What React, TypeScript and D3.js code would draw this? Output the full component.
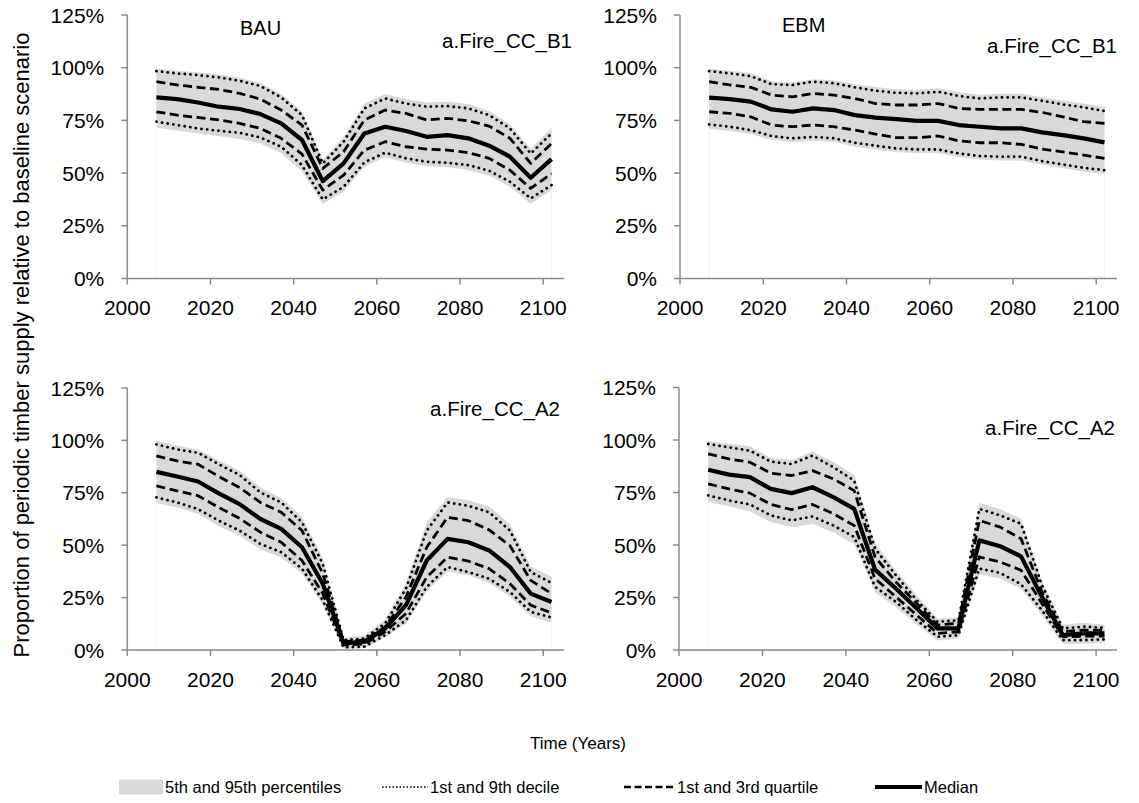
import React from "react";
import * as d3 from "d3";

// Simulation periods (mid-points of 5-year periods)
const years = [2007, 2012, 2017, 2022, 2027, 2032, 2037, 2042, 2047, 2052, 2057, 2062, 2067, 2072, 2077, 2082, 2087, 2092, 2097, 2102];

const xTicks = [2000, 2020, 2040, 2060, 2080, 2100];
const yTicks = [0, 25, 50, 75, 100, 125];

// BAU, a.Fire_CC_B1
const bauB1P5 = [71.5, 70.2, 68.8, 67.5, 66.2, 64, 59.5, 50.8, 35.5, 41.2, 53, 57.5, 55, 53.2, 52.8, 51.5, 48.8, 43.5, 35.5, 42];
const bauB1D1 = [74.4, 72.8, 71.2, 70.1, 69.1, 66.9, 62.5, 53.8, 37.5, 43.5, 55.1, 59.7, 57, 55.4, 54.9, 53.8, 51.1, 45.9, 38, 44.3];
const bauB1Q1 = [79.1, 77.5, 76.4, 75.2, 73.6, 71.2, 66.5, 59, 41.9, 49, 60.9, 64.9, 62.5, 61.4, 60.9, 59.7, 57, 51.4, 42.7, 49.8];
const bauB1Med = [85.9, 85.1, 83.5, 81.5, 80.4, 78, 73.6, 65.7, 46.2, 54.6, 68.8, 72, 70, 67.2, 68, 66.5, 63, 57.8, 47.8, 56.6];
const bauB1Q3 = [93.4, 91.8, 90.7, 89.7, 87.8, 85.1, 79.9, 72.8, 52.2, 60.1, 75.2, 79.9, 78.3, 75.2, 76, 74.8, 72.3, 66.5, 54.6, 64];
const bauB1D9 = [98.4, 97.3, 96.5, 95.4, 93.8, 91.3, 85.9, 77.5, 54.6, 64.9, 80.7, 85.4, 83, 81.5, 81.8, 80.7, 77.5, 71.2, 59.3, 68.8];
const bauB1P95 = [99.5, 98.5, 97.8, 96.8, 95.2, 92.8, 87.5, 79.5, 56.5, 67, 83, 87.5, 85, 83.5, 83.8, 82.8, 79.5, 73.2, 61.5, 71.5];

// EBM, a.Fire_CC_B1
const ebmB1P5 = [71, 70, 68.5, 65.8, 64.8, 65.4, 64.8, 62.6, 61.2, 60, 59.4, 59.4, 57.6, 56.4, 56, 56, 54, 52.3, 50.8, 49.5];
const ebmB1D1 = [73.1, 72, 70.4, 67.6, 66.5, 67.2, 66.5, 64.4, 63, 61.7, 61.2, 61.2, 59.3, 58.1, 57.8, 57.8, 55.7, 54.1, 52.5, 51.4];
const ebmB1Q1 = [79.1, 78.3, 76.7, 72.8, 72, 72.8, 72, 70.4, 68.5, 66.8, 66.8, 67.6, 65.3, 64.4, 64.4, 63.6, 61.4, 60.1, 58.5, 57];
const ebmB1Med = [85.8, 85.1, 83.9, 80.2, 79.1, 80.7, 79.9, 77.5, 76.3, 75.6, 74.8, 74.8, 72.8, 72, 71.2, 71.2, 69.3, 68, 66.5, 64.6];
const ebmB1Q3 = [93.4, 91.8, 90.7, 87, 86.2, 87.8, 87, 85.4, 83, 82.3, 82.3, 83, 80.7, 80.2, 80.2, 80.2, 78.8, 76.7, 74.4, 73.6];
const ebmB1D9 = [98.4, 97.3, 96, 92.2, 91.8, 93.4, 92.6, 90.7, 89.1, 88.1, 87.8, 88.6, 86.6, 85.4, 85.9, 85.9, 84.3, 82.6, 81.2, 79.4];
const ebmB1P95 = [99.5, 98.5, 97.5, 93.5, 93, 94.5, 94, 92.2, 90.8, 89.8, 89.5, 90.2, 88.3, 87.2, 87.6, 87.6, 86, 84.4, 83, 81.5];

// BAU, a.Fire_CC_A2
const bauA2P5 = [70, 68, 65, 59, 54.5, 48, 44, 36.5, 21.5, 0.5, 0.8, 6, 12.5, 28, 37.5, 35.5, 32, 25.5, 16, 13];
const bauA2D1 = [72.8, 70.4, 67.2, 61.7, 57, 50.6, 46.7, 38.8, 23.7, 1.3, 1.6, 7.1, 14.2, 30.1, 39.6, 37.2, 34, 27.7, 18.2, 15.5];
const bauA2Q1 = [78.3, 75.9, 73.6, 68, 62.8, 56.2, 51.4, 42.7, 26.9, 2.4, 2.8, 8.7, 17.4, 34.8, 44.3, 42.4, 38.8, 31.6, 21.4, 17.7];
const bauA2Med = [85, 82.8, 80.4, 74.7, 69.6, 62.5, 57.8, 49, 31.6, 3.2, 4, 10.3, 21.4, 42.7, 53, 51.4, 47.5, 39.6, 26.9, 22.9];
const bauA2Q3 = [92.6, 90.2, 88.6, 82.8, 77.5, 70.4, 65.7, 57, 36.4, 4, 4.7, 11, 25.3, 49, 63.3, 61.7, 57.3, 49.8, 33.2, 26.9];
const bauA2D9 = [98.1, 95.7, 94.1, 88.6, 83.5, 75.2, 70.4, 60.9, 41.1, 4.7, 5.5, 12.7, 29.3, 57, 70.4, 68.8, 65.7, 57, 37.2, 32];
const bauA2P95 = [100, 97.5, 95.5, 90.5, 85.5, 77.5, 72.5, 63.5, 44, 6, 7, 14.5, 32, 61, 73, 71.5, 68.5, 60, 40, 35];

// EBM, a.Fire_CC_A2
const ebmA2P5 = [70.5, 68.5, 66, 61, 58.5, 60, 56, 50.5, 27.5, 20.5, 12, 4.5, 5.5, 36, 34, 29, 16.5, 3, 3, 3.5];
const ebmA2D1 = [73.6, 71.2, 69.3, 64.1, 61.7, 63.6, 59.3, 53.8, 30.1, 22.9, 14.2, 6.3, 7.1, 38.8, 36.7, 31.3, 19, 4.7, 4.7, 5.1];
const ebmA2Q1 = [79.1, 76.7, 74.7, 69.3, 66.8, 69.3, 64.9, 59.3, 34, 25.3, 16.6, 7.9, 8.7, 44.3, 41.9, 38, 22.2, 6.3, 6.6, 6.6];
const ebmA2Med = [85.8, 83.5, 82.3, 76.7, 74.7, 77.5, 72.8, 67.2, 38.3, 29.3, 19.8, 10.3, 10.3, 52.2, 49.4, 44.6, 25.3, 7.1, 7.9, 7.9];
const ebmA2Q3 = [93.4, 91, 89.4, 84.2, 83.1, 85.4, 81.5, 75.9, 44.3, 32.4, 22.2, 11.9, 12.7, 61.7, 58.5, 53, 27.7, 8.7, 9.5, 9.5];
const ebmA2D9 = [98.1, 96.5, 94.9, 89.7, 88.6, 92.6, 87, 80.7, 48.3, 35.6, 23.7, 13.4, 14.2, 67.2, 64.1, 60.1, 30.9, 10.3, 11.1, 10.6];
const ebmA2P95 = [99.5, 98.2, 97, 91.5, 90.5, 94.5, 89.5, 83.5, 51, 38, 26, 15, 15.5, 70, 67, 62.5, 33, 12, 13, 12];

type Series = { p5: number[]; d1: number[]; q1: number[]; med: number[]; q3: number[]; d9: number[]; p95: number[] };

const panels: {
  box: { left: number; right: number; top: number; bottom: number };
  mgmt?: { text: string; x: number; y: number };
  scen: { text: string; x: number; y: number };
  s: Series;
}[] = [
  {
    box: { left: 127.3, right: 564, top: 15, bottom: 278.5 },
    mgmt: { text: "BAU", x: 240, y: 35 },
    scen: { text: "a.Fire_CC_B1", x: 572, y: 48 },
    s: { p5: bauB1P5, d1: bauB1D1, q1: bauB1Q1, med: bauB1Med, q3: bauB1Q3, d9: bauB1D9, p95: bauB1P95 },
  },
  {
    box: { left: 680, right: 1117, top: 15, bottom: 278.5 },
    mgmt: { text: "EBM", x: 782, y: 32 },
    scen: { text: "a.Fire_CC_B1", x: 1117, y: 53 },
    s: { p5: ebmB1P5, d1: ebmB1D1, q1: ebmB1Q1, med: ebmB1Med, q3: ebmB1Q3, d9: ebmB1D9, p95: ebmB1P95 },
  },
  {
    box: { left: 127.3, right: 564, top: 388, bottom: 650 },
    scen: { text: "a.Fire_CC_A2", x: 560, y: 416 },
    s: { p5: bauA2P5, d1: bauA2D1, q1: bauA2Q1, med: bauA2Med, q3: bauA2Q3, d9: bauA2D9, p95: bauA2P95 },
  },
  {
    box: { left: 679, right: 1117, top: 387.5, bottom: 650 },
    scen: { text: "a.Fire_CC_A2", x: 1115, y: 435 },
    s: { p5: ebmA2P5, d1: ebmA2D1, q1: ebmA2Q1, med: ebmA2Med, q3: ebmA2Q3, d9: ebmA2D9, p95: ebmA2P95 },
  },
];

const FONT = "'Liberation Sans', Arial, Helvetica, sans-serif";
const AXIS = "#8a8a8a";
const BAND = "#d9d9d9";

function Panel({ p }: { p: (typeof panels)[number] }) {
  const { box, s } = p;
  const x = d3.scaleLinear().domain([2000, 2105]).range([box.left, box.right]);
  const y = d3.scaleLinear().domain([0, 125]).range([box.bottom, box.top]);

  const area = d3
    .area<number>()
    .x((_, i) => x(years[i]))
    .y0((_, i) => y(s.p5[i]))
    .y1((d) => y(d));
  const line = d3
    .line<number>()
    .x((_, i) => x(years[i]))
    .y((d) => y(d));

  const x0 = x(years[0]);
  const x1 = x(years[years.length - 1]);

  return (
    <g>
      <path d={area(s.p95) || ""} fill={BAND} />
      {/* faint edges of the stacked base area */}
      <line x1={x0} x2={x0} y1={y(0)} y2={y(s.p5[0])} stroke="#f2f2f2" strokeWidth={1} />
      <line x1={x1} x2={x1} y1={y(0)} y2={y(s.p5[s.p5.length - 1])} stroke="#f2f2f2" strokeWidth={1} />

      {[s.d1, s.d9].map((v, k) => (
        <path key={"d" + k} d={line(v) || ""} fill="none" stroke="#000" strokeWidth={2.8} strokeDasharray="0.1 5.6" strokeLinecap="round" strokeLinejoin="round" />
      ))}
      {[s.q1, s.q3].map((v, k) => (
        <path key={"q" + k} d={line(v) || ""} fill="none" stroke="#000" strokeWidth={2.8} strokeDasharray="9 4.5" strokeLinejoin="round" />
      ))}
      <path d={line(s.med) || ""} fill="none" stroke="#000" strokeWidth={4.2} strokeLinejoin="round" />

      {/* axes */}
      <line x1={box.left} x2={box.left} y1={box.top} y2={box.bottom} stroke={AXIS} strokeWidth={1.5} />
      <line x1={box.left} x2={box.right} y1={box.bottom} y2={box.bottom} stroke={AXIS} strokeWidth={1.5} />
      {yTicks.map((t) => (
        <g key={"y" + t}>
          <line x1={box.left - 6} x2={box.left} y1={y(t)} y2={y(t)} stroke={AXIS} strokeWidth={1.5} />
          <text x={box.left - 23} y={y(t)} dy="0.36em" textAnchor="end" fontSize={21} fontFamily={FONT} fill="#000">
            {t}%
          </text>
        </g>
      ))}
      {xTicks.map((t) => (
        <g key={"x" + t}>
          <line x1={x(t)} x2={x(t)} y1={box.bottom} y2={box.bottom + 6} stroke={AXIS} strokeWidth={1.5} />
          <text x={x(t)} y={box.bottom + 36.5} textAnchor="middle" fontSize={21} fontFamily={FONT} fill="#000">
            {t}
          </text>
        </g>
      ))}

      {p.mgmt && (
        <text x={p.mgmt.x} y={p.mgmt.y} fontSize={20} fontFamily={FONT} fill="#000">
          {p.mgmt.text}
        </text>
      )}
      <text x={p.scen.x} y={p.scen.y} textAnchor="end" fontSize={20.5} fontFamily={FONT} fill="#000">
        {p.scen.text}
      </text>
    </g>
  );
}

const legendItems = [
  { kind: "band", label: "5th and 95th percentiles", x0: 119, x1: 163 },
  { kind: "dot", label: "1st and 9th decile", x0: 382, x1: 428 },
  { kind: "dash", label: "1st and 3rd quartile", x0: 624, x1: 675 },
  { kind: "solid", label: "Median", x0: 875, x1: 922 },
];

export default function App() {
  const ly = 787;
  return (
    <svg width={1139} height={803} style={{ position: "absolute", left: 0, top: 0, background: "#fff" }}>
      <rect width={1139} height={803} fill="#fff" />
      {panels.map((p, i) => (
        <Panel key={i} p={p} />
      ))}

      <text
        transform="translate(29,345) rotate(-90)"
        textAnchor="middle"
        fontSize={22}
        fontFamily={FONT}
        fill="#000"
      >
        Proportion of periodic timber supply relative to baseline scenario
      </text>
      <text x={578} y={749} textAnchor="middle" fontSize={17} fontFamily={FONT} fill="#000">
        Time (Years)
      </text>

      {legendItems.map((it) => (
        <g key={it.label}>
          {it.kind === "band" && <rect x={it.x0} y={ly - 7.5} width={it.x1 - it.x0} height={15} fill={BAND} />}
          {it.kind === "dot" && (
            <line x1={it.x0} x2={it.x1} y1={ly} y2={ly} stroke="#000" strokeWidth={1.6} strokeDasharray="1.6 1.9" />
          )}
          {it.kind === "dash" && (
            <line x1={it.x0} x2={it.x1} y1={ly} y2={ly} stroke="#000" strokeWidth={2.6} strokeDasharray="7 3.5" />
          )}
          {it.kind === "solid" && <line x1={it.x0} x2={it.x1} y1={ly} y2={ly} stroke="#000" strokeWidth={4} />}
          <text x={it.x1 + 2} y={ly} dy="0.36em" fontSize={16.5} fontFamily={FONT} fill="#000">
            {it.label}
          </text>
        </g>
      ))}
    </svg>
  );
}
